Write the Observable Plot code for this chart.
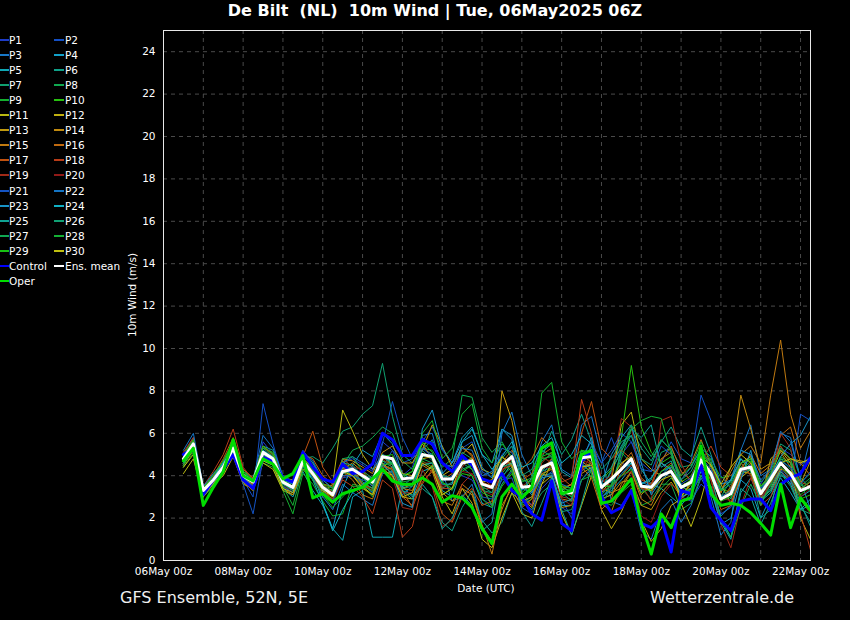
<!DOCTYPE html>
<html>
<head>
<meta charset="utf-8">
<script src="https://cdn.jsdelivr.net/npm/d3@7"></script>
<script src="https://cdn.jsdelivr.net/npm/@observablehq/plot@0.6"></script>
<style>
  html, body { margin: 0; padding: 0; background: #000; }
  #wrap { position: relative; width: 850px; height: 620px; background: #000; overflow: hidden;
          font-family: "DejaVu Sans", sans-serif; color: #fff; }
  #chart { position: absolute; left: 0; top: 0; }
  .txt { position: absolute; white-space: pre; color: #fff; }
  .leg { position: absolute; font-size: 10.5px; line-height: 12px; white-space: pre; }
  .leg span.l { position: absolute; top: 5px; height: 2px; }
</style>
</head>
<body>
<div id="wrap">
  <div id="chart"></div>
</div>
<script>
// ---------------- DATA ----------------
const titleText = "De Bilt  (NL)  10m Wind | Tue, 06May2025 06Z";
const footLeft = "GFS Ensemble, 52N, 5E";
const footRight = "Wetterzentrale.de";
const yLabel = "10m Wind (m/s)";
const xLabel = "Date (UTC)";
const yTicks = [0, 2, 4, 6, 8, 10, 12, 14, 16, 18, 20, 22, 24];
const xTickDays = ["2025-05-06", "2025-05-08", "2025-05-10", "2025-05-12", "2025-05-14", "2025-05-16", "2025-05-18", "2025-05-20", "2025-05-22"];
const firstStep = "2025-05-06T12:00Z"; // 6-hourly steps
const stepHours = 6;

const P1 = [4.9,5.6,3.2,3.7,4.5,5.5,3.9,3.4, 5.6,5.0,3.6,3.3,4.9,4.0,3.3,2.8, 4.6,4.8,4.5,4.2,5.6,5.2,4.0,4.4, 5.8,5.4,4.6,4.2,4.0,3.8,2.9,2.6, 3.6,4.2,3.0,2.6,3.4,3.9,2.5,2.2, 3.8,4.4,3.2,3.5,5.0,5.6,4.6,4.2, 4.6,4.1,3.0,2.8,3.6,3.2,2.2,2.5, 3.9,4.6,3.6,4.4,5.3,5.0,4.5,4.9];
const P2 = [5.0,5.8,3.4,4.0,4.6,5.2,3.8,3.0, 7.4,5.5,3.9,3.6,5.2,4.6,3.7,3.0, 3.9,4.0,3.6,3.2,4.4,5.2,4.6,4.8, 5.6,6.3,5.2,4.6,5.3,5.6,4.2,3.9, 5.0,5.4,3.2,2.6,3.9,4.8,2.9,2.0, 4.4,5.4,4.6,5.8,4.6,4.4,3.2,3.9, 4.6,5.6,4.8,4.6,7.8,6.6,4.0,3.4, 4.8,4.2,2.9,3.6,4.3,3.6,6.9,6.6];
const P3 = [4.7,5.4,3.3,3.9,4.3,5.1,4.1,3.8, 4.9,4.6,3.5,3.2,4.4,3.9,3.0,2.4, 3.6,3.2,2.9,2.6,4.1,4.2,3.1,3.5, 5.9,6.0,4.2,2.8,3.0,3.6,1.8,2.2, 6.0,7.0,5.0,4.0,5.6,6.4,4.3,4.0, 6.4,6.8,4.9,2.8,2.6,3.3,1.4,1.0, 2.4,2.9,1.8,2.6,3.9,3.0,1.2,1.8, 5.2,6.4,4.0,4.3,6.0,5.8,3.8,2.4];
const P4 = [4.6,5.2,3.1,3.7,4.2,5.0,3.8,3.5, 4.7,4.5,3.8,3.6,4.5,4.3,2.7,1.5, 3.4,4.5,5.2,4.9,6.0,5.5,4.1,3.8, 5.3,5.0,4.1,4.6,5.8,6.3,5.0,4.6, 6.2,5.7,3.6,3.1,4.0,4.1,2.6,2.6, 4.2,4.6,3.0,3.3,3.8,4.4,3.6,3.2, 4.0,4.5,3.6,3.1,4.2,3.5,2.1,2.6, 3.8,3.4,2.0,3.0,3.9,3.2,2.4,2.6];
const P5 = [4.5,5.3,3.4,3.8,4.6,5.4,4.2,3.9, 5.0,4.7,3.4,3.0,4.2,3.3,2.6,1.5, 0.95,3.0,3.3,1.1,1.1,1.1,3.5,3.0, 4.2,4.4,3.3,3.0,4.4,4.0,2.7,2.5, 3.9,4.6,3.3,3.9,5.1,5.5,4.2,3.9, 5.2,5.0,3.4,4.2,5.2,5.9,4.3,3.6, 3.4,3.0,2.6,3.2,4.0,3.3,1.8,1.0, 3.2,3.9,2.8,3.4,4.4,3.8,3.0,3.3];
const P6 = [4.9,5.7,3.5,3.9,4.7,5.6,4.3,3.9, 5.4,5.2,3.9,3.6,5.0,4.6,3.8,3.4, 4.4,4.1,3.6,3.2,4.6,4.2,3.3,3.1, 3.4,3.0,1.8,1.4,2.5,3.3,1.9,1.3, 1.8,3.2,2.7,3.0,4.8,6.1,5.0,5.7, 6.9,5.6,2.9,3.1,5.3,6.2,5.3,4.7, 5.6,6.3,5.3,4.9,6.3,5.0,3.6,3.7, 4.8,4.2,2.0,2.4,4.6,4.0,2.7,1.6];
const P7 = [4.8,5.5,3.2,3.6,4.4,5.2,4.1,3.7, 5.2,4.9,3.6,3.5,4.8,4.9,4.6,5.3, 6.1,6.3,6.9,7.3,9.3,6.8,5.0,4.6, 5.2,4.7,3.4,3.7,4.6,4.3,3.3,3.2, 4.0,4.4,2.8,2.4,3.2,3.6,2.3,2.4, 3.8,4.3,3.3,4.3,5.1,4.6,3.6,3.8, 5.1,5.3,4.4,4.5,5.2,4.4,3.0,3.8, 5.2,5.0,3.7,4.2,5.5,5.2,3.9,3.4];
const P8 = [4.7,5.4,3.3,3.8,4.3,5.3,3.9,3.6, 5.0,4.6,3.5,3.2,4.4,4.0,3.4,3.3, 4.5,5.2,5.4,5.8,6.3,6.0,4.7,4.3, 5.3,5.2,4.4,4.8,7.8,7.7,5.8,5.1, 5.6,4.8,3.1,3.4,4.2,4.4,3.0,3.4, 4.5,4.2,2.9,3.6,4.0,4.6,3.4,2.9, 3.6,3.6,2.4,2.7,4.0,3.9,3.0,3.3, 4.4,4.8,3.4,4.1,4.8,4.3,3.5,3.9];
const P9 = [4.4,5.1,3.0,3.5,4.2,5.0,3.7,3.3, 4.6,4.4,3.3,2.2,4.1,3.6,2.8,2.1, 2.2,3.6,3.5,3.0,4.2,4.6,3.9,4.2, 5.5,5.6,4.6,4.2,4.9,4.3,3.2,3.0, 4.1,4.7,3.7,3.9,7.9,8.4,5.6,4.8, 5.2,4.6,2.8,2.6,3.2,3.6,2.6,2.8, 3.4,3.9,3.2,3.4,4.6,4.8,3.9,4.0, 4.6,4.2,2.6,3.8,4.9,4.6,3.7,4.1];
const P10 = [5.0,5.6,3.4,4.1,4.6,5.4,4.2,3.9, 5.3,5.1,3.8,3.4,4.6,3.9,3.2,2.9, 4.0,4.1,3.7,3.4,4.7,4.6,3.6,3.6, 4.7,4.4,3.1,3.4,4.2,4.5,3.8,3.7, 4.6,4.2,2.6,2.9,4.0,4.4,3.3,3.0, 4.8,5.0,3.8,4.3,5.8,9.2,6.3,5.1, 4.6,4.9,3.7,4.0,5.0,4.6,3.4,3.2, 4.6,4.8,3.2,3.5,4.6,4.0,2.9,3.1];
const P11 = [4.1,4.8,3.0,3.6,4.0,4.9,3.6,3.4, 4.6,4.3,3.3,3.1,4.3,3.8,3.2,3.6, 7.1,6.1,5.0,4.3,4.6,4.0,3.0,2.9, 3.9,4.5,3.0,2.2,3.4,2.7,1.0,0.6, 2.0,3.2,2.2,2.0,3.6,4.0,2.2,1.2, 2.6,4.0,3.2,3.8,6.4,7.0,4.8,4.3, 4.0,4.3,2.7,1.6,2.9,4.6,3.6,2.7, 3.9,4.3,2.8,4.8,5.2,4.6,2.0,1.0];
const P12 = [4.6,5.3,3.2,3.8,4.5,5.1,3.8,3.6, 4.8,4.9,3.9,3.8,4.8,4.4,3.6,3.2, 4.4,4.0,3.5,3.1,4.3,4.9,4.1,4.0, 4.8,4.9,4.0,4.3,5.0,5.5,4.3,4.1, 4.9,4.4,2.9,2.5,3.6,4.6,3.3,3.6, 4.7,4.3,2.4,1.5,2.3,3.4,1.9,0.9, 1.5,2.6,2.9,3.4,4.6,4.0,2.8,3.3, 4.6,4.9,3.5,4.0,5.2,4.8,4.7,4.6];
const P13 = [4.5,5.2,3.3,3.9,4.3,5.2,3.9,3.6, 5.1,4.7,3.6,3.5,4.7,4.3,3.5,3.3, 4.3,4.6,4.2,3.6,4.5,4.3,3.4,3.6, 5.2,6.4,5.4,4.4,5.4,4.9,3.4,2.6, 8.0,6.6,4.2,3.4,4.1,3.9,2.5,2.6, 4.1,4.4,2.9,3.1,3.7,3.8,2.6,2.4, 3.2,3.7,3.0,3.6,4.8,4.2,2.8,3.4, 4.2,4.1,2.9,3.3,4.3,4.2,3.6,4.7];
const P14 = [4.8,5.6,3.4,3.7,4.2,5.0,3.8,3.5, 4.8,4.6,3.4,3.1,4.3,4.2,3.6,3.5, 4.8,4.7,4.4,4.1,5.1,5.4,4.6,4.6, 5.5,4.8,3.2,2.8,3.4,3.1,1.6,0.9, 2.4,3.6,2.8,3.0,4.1,4.3,2.9,2.8, 4.4,4.6,3.4,3.2,3.4,4.2,3.1,3.6, 4.8,5.1,3.8,3.3,4.4,4.0,3.2,4.4, 7.8,6.2,4.3,4.6,5.1,4.4,3.4,3.7];
const P15 = [4.6,5.4,3.2,3.6,4.4,5.4,4.1,3.8, 5.0,4.8,3.7,3.5,4.6,4.2,3.4,3.0, 4.2,3.8,3.1,2.9,4.2,4.4,3.4,3.3, 4.5,4.2,2.8,2.6,3.6,3.2,1.7,0.3, 2.6,3.4,2.5,2.9,4.3,4.8,3.4,3.6, 5.0,4.6,2.7,2.3,3.6,4.2,2.9,2.6, 3.6,4.4,4.0,4.6,5.7,4.5,3.2,4.2, 5.0,5.4,4.6,7.8,10.4,6.9,5.3,6.1];
const P16 = [4.9,5.5,3.1,3.7,4.5,5.4,3.7,3.3, 5.4,5.0,3.9,3.7,5.0,4.8,4.0,3.6, 4.7,4.2,3.6,3.4,4.9,4.5,3.3,2.5, 3.7,4.2,3.8,4.1,5.3,5.0,3.7,3.5, 4.6,5.2,4.3,4.8,5.8,5.3,3.6,3.1, 4.4,3.9,2.4,2.9,4.5,5.1,3.9,3.5, 4.7,5.4,4.2,3.8,4.7,4.0,2.8,3.5, 4.3,5.0,4.1,4.5,5.9,6.3,4.6,4.0];
const P17 = [5.0,5.7,3.4,4.0,4.8,5.8,4.3,3.9, 5.4,4.9,3.7,3.4,4.9,6.1,4.4,3.7, 4.8,4.4,3.6,3.3,4.5,4.3,3.0,2.6, 3.9,3.6,2.2,1.8,3.0,3.4,2.6,2.8, 4.2,4.9,3.8,4.1,5.0,5.3,3.9,3.5, 6.0,7.5,5.3,4.8,5.2,4.8,3.4,3.3, 4.2,4.6,3.5,3.6,4.6,3.8,2.4,2.6, 4.0,4.6,3.1,4.4,5.4,4.7,3.7,3.5];
const P18 = [5.1,5.8,3.5,4.2,5.0,6.2,4.4,3.8, 5.0,4.5,3.6,3.5,4.8,4.2,3.3,2.9, 3.8,3.5,3.0,2.2,3.8,3.4,1.1,1.6, 3.6,4.3,3.4,3.4,4.4,4.9,3.9,3.5, 4.3,4.5,2.9,2.6,4.6,5.1,3.7,3.9, 7.6,6.0,3.8,3.5,4.0,4.5,3.8,3.6, 4.6,4.3,2.9,3.3,4.7,5.4,4.4,4.0, 4.6,4.0,2.6,3.0,4.2,3.8,2.2,0.5];
const P19 = [4.7,5.3,3.2,3.8,4.6,5.5,4.2,3.7, 4.9,4.6,3.5,3.3,4.6,4.0,3.1,2.7, 3.9,4.3,4.1,3.5,4.4,3.9,2.5,2.4, 4.3,3.5,1.6,1.9,3.6,4.1,3.4,3.4, 4.6,4.6,3.5,3.8,4.9,4.6,3.0,2.9, 4.2,5.0,3.7,4.0,6.7,6.3,3.6,2.8, 6.6,6.8,4.6,3.6,4.3,3.8,1.7,0.6, 2.6,3.9,2.8,3.7,6.0,5.3,2.9,2.2];
const P20 = [4.8,5.4,3.3,3.9,4.5,5.3,4.0,3.6, 5.1,4.8,3.6,3.4,4.7,4.4,3.6,3.2, 4.3,4.4,4.3,3.8,4.8,4.4,3.2,3.2, 4.6,4.6,3.5,3.6,4.2,4.1,3.3,3.1, 4.2,4.8,3.6,3.3,4.4,4.4,2.9,2.6, 4.7,4.6,3.3,3.5,4.0,4.2,2.1,1.8, 3.0,3.6,3.2,3.9,5.1,4.6,3.0,2.8, 4.2,4.4,3.0,3.6,4.4,3.9,3.0,3.4];
const P21 = [4.6,5.3,3.1,3.6,4.3,5.1,3.6,2.2, 4.8,4.7,3.5,3.2,4.5,3.9,3.1,2.8, 4.0,4.0,3.8,3.6,5.5,7.5,5.8,4.8, 5.3,4.9,3.7,4.0,4.8,4.5,3.0,2.9, 3.8,3.9,2.5,2.2,3.8,4.2,3.1,3.3, 4.9,5.6,4.6,5.2,6.0,5.6,4.3,4.2, 5.4,5.0,3.6,3.9,4.9,4.3,3.0,3.3, 4.2,4.5,3.4,4.0,4.7,4.4,3.6,4.2];
const P22 = [5.2,6.0,3.5,4.1,4.6,5.5,4.2,3.8, 5.9,5.3,4.0,3.7,5.1,4.7,3.8,3.4, 4.6,4.9,4.6,4.3,5.0,4.8,3.5,3.9, 5.2,5.7,4.6,4.4,5.3,5.2,4.0,4.2, 5.3,5.1,3.4,3.2,4.2,4.7,3.6,3.4, 4.5,4.4,3.0,3.4,4.1,4.6,3.7,3.5, 4.2,4.4,3.8,4.4,5.3,4.9,3.6,3.8, 5.2,5.0,3.8,4.3,6.1,5.6,3.9,5.8];
const P23 = [4.8,5.5,3.3,3.7,4.4,5.2,3.9,3.5, 5.2,4.8,3.7,3.3,4.5,4.2,3.5,3.1, 4.4,4.4,3.9,3.5,4.5,4.1,2.7,2.5, 6.2,7.1,5.3,4.6,5.6,5.9,4.4,3.9, 6.2,5.9,4.1,3.2,3.9,4.0,2.7,2.9, 4.6,5.8,3.6,5.0,5.8,6.4,4.6,3.1, 3.8,4.2,3.1,3.4,4.3,3.4,1.7,2.0, 3.8,5.2,3.3,4.0,4.9,5.5,5.9,6.8];
const P24 = [4.7,5.4,3.3,3.9,4.6,5.2,3.9,3.7, 5.0,4.7,3.6,3.4,4.5,3.8,2.7,1.4, 2.4,3.2,3.6,3.9,4.9,4.6,3.5,3.6, 4.5,4.6,3.6,3.6,5.6,6.2,5.0,4.3, 4.9,5.6,4.4,4.6,5.4,5.8,4.6,5.0, 5.9,5.5,3.6,3.7,4.3,4.6,3.6,3.9, 4.6,4.3,3.0,3.2,4.5,4.0,3.3,3.8, 4.8,4.4,2.8,3.2,4.2,3.6,2.4,2.9];
const P25 = [4.6,5.3,3.2,3.8,4.5,5.3,4.0,3.7, 5.1,4.9,3.7,3.4,4.6,4.0,3.3,3.2, 4.6,4.5,4.0,3.9,5.0,4.5,3.3,2.9, 3.6,3.0,1.5,2.0,3.1,2.6,1.4,1.8, 4.4,4.6,2.3,1.6,2.7,3.9,2.4,1.2, 2.7,4.4,3.9,4.4,5.4,6.2,5.8,6.4, 4.4,4.7,3.4,3.6,4.6,4.2,1.9,1.1, 3.4,3.0,1.7,2.7,4.0,3.8,2.6,1.8];
const P26 = [4.9,5.6,3.4,3.9,4.4,5.4,4.1,3.8, 5.3,4.9,3.7,3.5,4.8,4.3,3.4,3.1, 4.1,4.2,3.7,3.4,4.7,4.4,3.4,3.5, 4.9,5.0,4.0,3.9,5.1,4.8,3.5,3.2, 4.8,5.4,4.0,4.3,5.2,4.9,3.2,2.8, 4.6,5.4,4.3,4.8,5.6,5.9,4.8,4.5, 5.7,5.2,3.8,4.2,5.2,4.6,3.4,2.9, 4.1,4.3,2.9,3.3,4.1,3.5,2.4,2.2];
const P27 = [4.7,5.5,3.3,3.8,4.4,5.2,4.0,3.7, 5.0,4.8,3.6,3.3,4.6,4.3,3.5,3.3, 4.8,4.9,4.2,3.9,5.0,4.6,3.6,3.6, 4.8,4.6,3.7,3.3,4.3,4.5,3.5,2.6, 3.6,4.3,3.4,3.8,4.7,5.0,3.4,3.3, 4.6,4.1,2.6,3.5,5.1,6.4,5.6,4.9, 5.7,5.2,3.5,3.2,4.0,3.5,2.0,1.1, 2.5,3.6,2.6,3.6,4.8,4.6,3.6,3.3];
const P28 = [4.5,5.3,3.3,3.8,4.3,5.1,3.8,3.4, 4.9,4.7,3.5,2.6,4.3,3.8,3.1,2.5, 3.0,3.5,3.5,3.3,4.5,4.6,3.7,3.8, 6.0,6.6,4.8,5.3,6.9,7.4,5.3,4.6, 5.5,4.9,3.8,3.7,4.8,4.9,3.4,3.0, 3.8,4.0,3.1,3.6,4.8,6.2,6.6,6.8, 6.7,5.0,4.0,4.4,5.6,4.7,3.3,3.6, 4.6,4.8,3.5,4.1,5.3,4.8,3.3,3.8];
const P29 = [5.0,5.7,3.4,4.0,4.7,5.6,4.2,3.8, 5.4,5.0,3.8,3.5,4.8,4.3,3.6,3.4, 4.5,4.3,3.9,3.6,4.9,5.0,4.0,4.2, 5.6,5.1,3.7,3.4,4.1,4.0,2.9,2.5, 3.5,4.1,3.2,3.6,4.9,5.1,3.5,3.4, 5.2,5.1,3.5,3.5,4.0,4.3,3.2,3.4, 4.2,4.5,3.5,3.8,4.8,4.1,2.8,3.0, 4.2,4.7,3.5,3.9,4.4,4.0,3.1,3.5];
const P30 = [4.4,5.0,3.1,3.6,4.3,5.0,3.7,3.4, 4.7,4.5,3.4,3.2,4.5,4.0,3.3,3.0, 4.2,4.0,3.4,3.1,4.3,4.0,3.0,3.2, 4.6,4.3,3.1,3.4,4.7,4.8,3.7,3.8, 4.9,4.5,3.0,3.3,4.3,4.6,3.2,3.3, 4.4,4.5,3.5,3.8,4.6,4.9,3.5,3.3, 3.8,4.0,3.0,3.7,4.9,4.5,3.6,4.4, 5.0,4.6,3.3,3.7,4.6,4.8,4.6,4.8];

const control = [5.0,5.3,3.1,3.8,4.3,5.0,3.8,3.4, 4.85,4.7,3.9,3.7,5.1,4.4,3.85,3.7, 4.55,4.1,4.2,4.55,6.0,5.7,4.95,4.95, 5.7,5.5,4.6,4.2,4.95,4.5,3.85,3.7, 4.1,3.3,3.0,2.2,1.9,3.75,1.75,1.4, 4.7,5.2,3.0,2.25,2.5,3.3,1.75,1.55, 2.0,0.4,3.3,3.15,4.5,2.5,1.9,1.4, 2.8,2.9,2.9,2.35,3.6,3.9,4.1,4.85];
const ensMean = [4.8,5.5,3.3,3.8,4.4,5.3,4.0,3.7, 5.1,4.8,3.7,3.45,4.7,4.1,3.45,3.1, 4.2,4.3,4.0,3.7,4.9,4.8,3.85,3.9, 5.0,4.9,3.85,3.85,4.6,4.7,3.6,3.45, 4.5,4.9,3.45,3.5,4.4,4.6,3.2,3.2, 4.85,4.9,3.45,3.85,4.3,4.8,3.5,3.45, 4.0,4.2,3.45,3.7,4.75,4.1,2.9,3.15, 4.3,4.4,3.15,3.85,4.6,4.1,3.3,3.5];
const oper = [4.7,5.3,2.6,3.45,4.2,5.7,4.0,3.75, 4.8,4.55,3.85,4.1,4.95,2.95,3.15,2.75, 3.15,3.3,3.45,3.85,4.3,3.75,3.6,3.6, 3.9,3.6,2.75,3.05,2.95,2.5,1.5,0.8, 3.0,3.6,2.95,3.45,5.3,5.55,3.15,3.3, 5.0,5.2,2.7,2.8,3.3,3.85,1.75,0.3, 2.2,1.55,2.8,2.95,5.4,3.15,2.6,2.7, 2.6,2.25,1.75,1.2,3.6,1.55,2.95,2.35];

const memberNames = ["P1","P2","P3","P4","P5","P6","P7","P8","P9","P10","P11","P12","P13","P14","P15","P16","P17","P18","P19","P20","P21","P22","P23","P24","P25","P26","P27","P28","P29","P30"];
const memberColors = ["#1e3cc8","#1450c4","#1878c8","#12a0c8","#10a8b4","#10a088","#10a070","#10a850","#14b030","#28c010",
                      "#b8b812","#c0b010","#c09a10","#c08a10","#c07a10","#c06a10","#c05210","#b83c18","#a02a18","#901a18",
                      "#1454c4","#1474c4","#1894c8","#10b0c4","#10a494","#10a074","#10a854","#14b034","#18c014","#c0c010"];
const members = [P1,P2,P3,P4,P5,P6,P7,P8,P9,P10,P11,P12,P13,P14,P15,P16,P17,P18,P19,P20,P21,P22,P23,P24,P25,P26,P27,P28,P29,P30];
const controlColor = "#0000ff", meanColor = "#ffffff", operColor = "#00dd00";

// ---------------- BUILD ----------------
const t0 = new Date(firstStep).getTime();
const stepMs = stepHours * 3600 * 1000;
const toRows = vals => vals.map((v, i) => ({ t: new Date(t0 + i * stepMs), v }));
const xDomain = [new Date("2025-05-06T00:00Z"), new Date("2025-05-22T06:00Z")];
const xTicks = xTickDays.map(d => new Date(d + "T00:00Z"));
const dayLines = d3.utcDay.range(new Date("2025-05-07T00:00Z"), new Date("2025-05-22T01:00Z"));
const fmt = d3.utcFormat("%d%b %Hz");

const marks = [
  Plot.ruleY(yTicks.filter(d => d > 0), { stroke: "#4a4a4a", strokeDasharray: "4,4", strokeWidth: 1 }),
  Plot.ruleX(dayLines, { stroke: "#4a4a4a", strokeDasharray: "4,4", strokeWidth: 1 }),
];
members.forEach((m, k) => {
  marks.push(Plot.line(toRows(m), { x: "t", y: "v", stroke: memberColors[k], strokeWidth: 1, clip: true }));
});
marks.push(Plot.line(toRows(control), { x: "t", y: "v", stroke: controlColor, strokeWidth: 3, clip: true }));
marks.push(Plot.line(toRows(ensMean), { x: "t", y: "v", stroke: meanColor, strokeWidth: 3, clip: true }));
marks.push(Plot.line(toRows(oper), { x: "t", y: "v", stroke: operColor, strokeWidth: 3, clip: true }));
marks.push(Plot.frame({ stroke: "#e8e8e8", strokeWidth: 1 }));
marks.push(Plot.axisX({ ticks: xTicks, tickFormat: fmt, tickSize: 0, tickPadding: 7, label: null, fill: "#fff" }));
marks.push(Plot.axisY({ ticks: yTicks, tickSize: 0, tickPadding: 8, label: null, fill: "#fff" }));

const chart = Plot.plot({
  width: 850, height: 620,
  marginLeft: 163, marginRight: 40, marginTop: 30, marginBottom: 60,
  style: { background: "transparent", color: "#fff", fontFamily: "DejaVu Sans, sans-serif", fontSize: "10.5px" },
  x: { type: "utc", domain: xDomain },
  y: { domain: [0, 25] },
  marks
});
document.getElementById("chart").appendChild(chart);

// ---------------- TEXT OVERLAYS ----------------
const wrap = document.getElementById("wrap");
function addText(str, css) {
  const d = document.createElement("div");
  d.className = "txt"; d.textContent = str;
  Object.assign(d.style, css);
  wrap.appendChild(d);
  return d;
}
addText(titleText, { left: "0px", width: "870px", textAlign: "center", top: "1px", fontSize: "16px", fontWeight: "bold" });
addText(footLeft, { left: "120px", top: "588px", fontSize: "16px", color: "#f0f0f0" });
addText(footRight, { left: "650px", top: "588px", fontSize: "16px", color: "#f0f0f0" });
addText(xLabel, { left: "386px", width: "200px", textAlign: "center", top: "582px", fontSize: "10.5px" });
addText(yLabel, { left: "33px", width: "200px", textAlign: "center", top: "288px", fontSize: "10.5px",
                  transform: "rotate(-90deg)", transformOrigin: "100px 7px" });

// legend
const legendItems = memberNames.map((n, k) => ({ name: n, color: memberColors[k], w: 2 }))
  .concat([{ name: "Control", color: controlColor, w: 2 }, { name: "Ens. mean", color: meanColor, w: 2 }, { name: "Oper", color: operColor, w: 2 }]);
legendItems.forEach((it, k) => {
  const col = k % 2, row = Math.floor(k / 2);
  const d = document.createElement("div");
  d.className = "leg";
  d.style.left = (col === 0 ? 0 : 54) + "px";
  d.style.top = (34 + row * 15.05) + "px";
  const ln = document.createElement("span");
  ln.className = "l";
  ln.style.left = "0px"; ln.style.width = (col === 0 ? 9 : 10) + "px";
  ln.style.background = it.color; ln.style.height = it.w + "px";
  const tx = document.createElement("span");
  tx.textContent = it.name;
  tx.style.marginLeft = (col === 0 ? 9 : 11) + "px";
  d.appendChild(ln); d.appendChild(tx);
  wrap.appendChild(d);
});
</script>
</body>
</html>
